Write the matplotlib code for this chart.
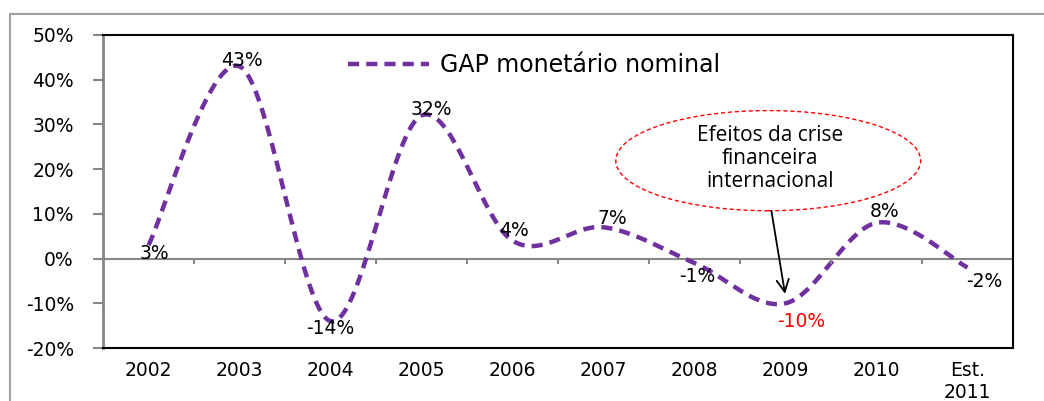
import numpy as np
import matplotlib
matplotlib.use("Agg")
import matplotlib.pyplot as plt
from matplotlib.patches import Ellipse, Rectangle

# dados do gráfico
anos = ["2002", "2003", "2004", "2005", "2006", "2007", "2008", "2009", "2010", "Est.\n2011"]
gap = [3, 43, -14, 32, 4, 7, -1, -10, 8, -2]
rotulos = ["3%", "43%", "-14%", "32%", "4%", "7%", "-1%", "-10%", "8%", "-2%"]
yticks = [-20, -10, 0, 10, 20, 30, 40, 50]

# deslocamento dos rótulos (pontos)
offsets = [(4, -6), (2, 4), (0, -5), (7, 4), (1, 7), (6, 6), (2, -10), (11, -13), (6, 8), (12, -10)]
cores_rot = ["black"] * 7 + ["red"] + ["black"] * 2

roxo = "#7030A0"
cinza = "#868686"


def suaviza(x, y, n=40):
    # curva suavizada tipo Excel (Catmull-Rom em Bezier)
    P = np.column_stack([x, y]).astype(float)
    P = np.vstack([P[0], P, P[-1]])
    xs, ys = [], []
    t = np.linspace(0, 1, n)
    for i in range(1, len(P) - 2):
        p0, p1, p2, p3 = P[i - 1], P[i], P[i + 1], P[i + 2]
        c1 = p1 + (p2 - p0) / 6
        c2 = p2 - (p3 - p1) / 6
        b = ((1 - t) ** 3)[:, None] * p1 + (3 * (1 - t) ** 2 * t)[:, None] * c1 \
            + (3 * (1 - t) * t ** 2)[:, None] * c2 + (t ** 3)[:, None] * p2
        xs.extend(b[:, 0])
        ys.extend(b[:, 1])
    return np.array(xs), np.array(ys)


fig = plt.figure(figsize=(10.44, 4.01), dpi=100)
fig.patches.append(Rectangle((10 / 1044, -0.1), 1.2, 0.1 + 1 - 14 / 401, transform=fig.transFigure,
                             fill=False, edgecolor="#A0A0A0", linewidth=1.5))
ax = fig.add_axes([103 / 1044, 1 - 348 / 401, 910 / 1044, 313 / 401])

x = np.arange(len(anos))
sx, sy = suaviza(x, gap)
ax.plot(sx, sy, color=roxo, linewidth=3.2, linestyle=(0, (2.5, 1.6)), label="GAP monetário nominal")

for xi, yi, txt, off, c in zip(x, gap, rotulos, offsets, cores_rot):
    ax.annotate(txt, (xi, yi), xytext=off, textcoords="offset points", ha="center", va="center",
                fontsize=13.5, color=c)

# eixo zero com marcas
ax.axhline(0, color=cinza, linewidth=1.5, zorder=1)
ax.vlines(np.arange(0.5, len(anos)), -1.3, 0, color=cinza, linewidth=1.5)

ax.set_xlim(-0.5, len(anos) - 0.5)
ax.set_ylim(-20, 50)
ax.set_xticks(x)
ax.set_xticklabels(anos, fontsize=13.5, va="top", linespacing=1.2)
ax.tick_params(axis="x", length=0, pad=9)
ax.set_yticks(yticks)
ax.set_yticklabels([f"{v}%" for v in yticks], fontsize=13.5)
ax.tick_params(axis="y", length=7, width=1.5, color=cinza, pad=14)

for s in ["top", "right", "bottom"]:
    ax.spines[s].set_color("black")
    ax.spines[s].set_linewidth(1.5)
ax.spines["left"].set_color(cinza)
ax.spines["left"].set_linewidth(2)

leg = ax.legend(loc="center", bbox_to_anchor=(0.474, 0.904), frameon=False, fontsize=17,
                handlelength=3.4, handletextpad=0.5)

# destaque da crise
ax.add_patch(Ellipse((6.81, 21.9), 3.35, 22.4, fill=False, edgecolor="red", linestyle=(0, (3, 2)),
                     linewidth=1))
ax.text(6.83, 22.4, "Efeitos da crise\nfinanceira\ninternacional", ha="center", va="center",
        fontsize=15, family="Open Sans", linespacing=1.1)
ax.annotate("", xy=(7.0, -8.5), xytext=(6.84, 11.3),
            arrowprops=dict(arrowstyle="->", color="black", linewidth=1.3, mutation_scale=22))

fig.savefig("out.png", dpi=100)
